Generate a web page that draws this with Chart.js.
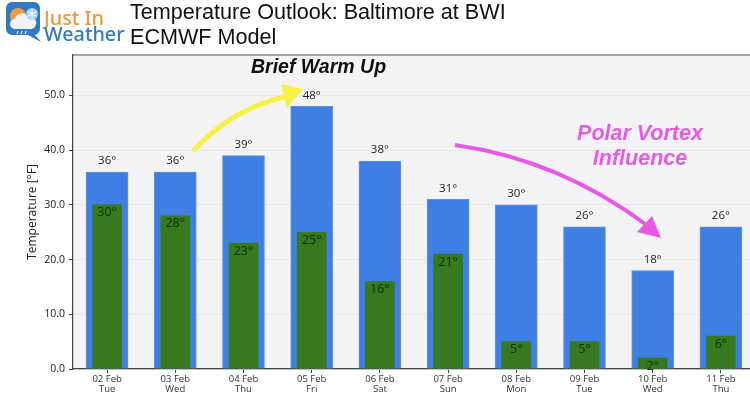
<!DOCTYPE html>
<html>
<head>
<meta charset="utf-8">
<script src="https://cdn.jsdelivr.net/npm/chart.js@4"></script>
<style>
html, body { margin: 0; padding: 0; background: #fff; overflow: hidden; width: 750px; height: 394px; }
#myChart { position: absolute; left: 0; top: 0; }
#logo { position: absolute; left: 6px; top: 1px; }
#brand { position: absolute; left: 44px; top: 10px; font-family: "Noto Sans", sans-serif; font-size: 19.8px; line-height: 16px; font-weight: 500; }
#brand .just { color: #e89a3c; }
#brand .weather { color: #2f7cc0; font-size: 19.8px; }
#title { position: absolute; left: 130px; top: 0; font-family: "Liberation Sans", sans-serif; font-size: 21.6px; line-height: 24.5px; color: #111; white-space: nowrap; }
</style>
</head>
<body>
<canvas id="myChart" width="755" height="394"></canvas>
<svg id="logo" width="36" height="42" viewBox="0 0 36 42">
  <path d="M6 1H28a6 6 0 0 1 6 6V28a6 6 0 0 1-6 6H29L35 41 22 34H6a6 6 0 0 1-6-6V7a6 6 0 0 1 6-6z" fill="#2f7cc0"/>
  <circle cx="12" cy="15" r="8" fill="#ee9c3f"/>
  <path d="M9 28a5 5 0 0 1 0-10a7 7 0 0 1 13-2a6 6 0 0 1 4 12z" fill="#eef4fa"/>
  <circle cx="26" cy="13" r="6" fill="#a8d0ef"/>
  <path d="M26 8V18M21.500 10.500L30.500 15.500M30.500 10.500L21.500 15.500" stroke="#fff" stroke-width="1"/>
  <path d="M12 30l-1 3M16 30l-1 3M20 30l-1 3" stroke="#d8e8f5" stroke-width="1.200"/>
</svg>
<div id="brand"><div class="just">Just In</div><div class="weather">Weather</div></div>
<div id="title">Temperature Outlook: Baltimore at BWI<br>ECMWF Model</div>
<script>
'use strict';

const dates = ['02 Feb', '03 Feb', '04 Feb', '05 Feb', '06 Feb', '07 Feb', '08 Feb', '09 Feb', '10 Feb', '11 Feb'];
const days = ['Tue', 'Wed', 'Thu', 'Fri', 'Sat', 'Sun', 'Mon', 'Tue', 'Wed', 'Thu'];
const highs = [36, 36, 39, 48, 38, 31, 30, 26, 18, 26];
const lows = [30, 28, 23, 25, 16, 21, 5, 5, 2, 6];
const y_ticks = [0, 10, 20, 30, 40, 50];

const FONT = '"Open Sans", sans-serif';
const YELLOW = '#f6f145';
const MAGENTA = '#e65ae6';

// background and frame of the plot
const frame_plugin = {
    id: 'frame',
    beforeDraw: function(chart){
        var ctx = chart.ctx, a = chart.chartArea;
        ctx.save();
        ctx.fillStyle = '#f4f4f6';
        ctx.fillRect(a.left, a.top, a.right - a.left, a.bottom - a.top);
        ctx.restore();
    },
    afterDraw: function(chart){
        var ctx = chart.ctx, a = chart.chartArea;
        ctx.save();
        ctx.strokeStyle = '#555';
        ctx.lineWidth = 1.2;
        ctx.beginPath();
        ctx.moveTo(a.left, a.top);
        ctx.lineTo(a.right, a.top);
        ctx.stroke();
        ctx.restore();
    }
};

// degree labels on the bars
const value_plugin = {
    id: 'values',
    afterDatasetsDraw: function(chart){
        var ctx = chart.ctx;
        ctx.save();
        ctx.textAlign = 'center';
        ctx.textBaseline = 'middle';
        chart.data.datasets.forEach(function(ds, d){
            chart.getDatasetMeta(d).data.forEach(function(bar, i){
                ctx.font = (d == 0 ? '11.500px ' : '12.500px ') + FONT;
                ctx.fillStyle = d == 0 ? '#222' : '#0b3108';
                var offset = d == 0 ? -11 : 8;
                ctx.fillText(ds.data[i] + '°', bar.x, bar.y + offset);
            });
        });
        ctx.restore();
    }
};

function drawHead(ctx, color, tip, c1, c2){
    ctx.fillStyle = color;
    ctx.beginPath();
    ctx.moveTo(tip[0], tip[1]);
    ctx.lineTo(c1[0], c1[1]);
    ctx.lineTo(c2[0], c2[1]);
    ctx.closePath();
    ctx.fill();
}

// hand drawn notes on top of the chart
const note_plugin = {
    id: 'notes',
    afterDraw: function(chart){
        var ctx = chart.ctx;
        ctx.save();
        ctx.lineCap = 'butt';

        ctx.strokeStyle = YELLOW;
        ctx.lineWidth = 5;
        ctx.beginPath();
        ctx.moveTo(193, 151);
        ctx.quadraticCurveTo(232, 108, 288, 96);
        ctx.stroke();
        drawHead(ctx, YELLOW, [303, 89], [281, 84], [287, 108]);

        ctx.strokeStyle = MAGENTA;
        ctx.lineWidth = 4;
        ctx.beginPath();
        ctx.moveTo(455, 145);
        ctx.quadraticCurveTo(560, 160, 648, 226);
        ctx.stroke();
        drawHead(ctx, MAGENTA, [661, 238], [652, 216], [637, 232]);

        ctx.textAlign = 'center';
        ctx.textBaseline = 'middle';
        ctx.fillStyle = '#111';
        ctx.font = 'italic bold 19.500px "Liberation Sans", sans-serif';
        ctx.fillText('Brief Warm Up', 318.5, 68);
        ctx.fillStyle = MAGENTA;
        ctx.font = 'italic bold 21.500px "Liberation Sans", sans-serif';
        ctx.fillText('Polar Vortex', 640, 134);
        ctx.fillText('Influence', 640, 159);
        ctx.restore();
    }
};

const ctx = document.getElementById('myChart');
var myChart = new Chart(ctx, {
    type: 'bar',
    data: {
        labels: dates.map((d, i) => [d, days[i]]),
        datasets: [
            { data: highs, backgroundColor: '#3f7fe3', borderColor: '#5b93ea', borderWidth: 1, barThickness: 42, grouped: false, order: 2 },
            { data: lows, backgroundColor: '#37791f', barThickness: 29, grouped: false, order: 1 }
        ]
    },
    options: {
        responsive: false,
        animation: false,
        layout: { padding: { top: 55, right: 0, bottom: 0, left: 0 } },
        plugins: {
            legend: { display: false },
            tooltip: { enabled: false }
        },
        scales: {
            x: {
                afterFit: function(s){ s.height = 25; },
                border: { color: '#444', width: 1.2 },
                grid: { offset: false, drawOnChartArea: false, drawTicks: true, tickLength: 4, tickColor: '#444' },
                ticks: {
                    color: '#333',
                    maxRotation: 0,
                    autoSkip: false,
                    padding: 1,
                    font: { family: FONT, size: 9.5, lineHeight: 1.1 }
                }
            },
            y: {
                min: 0,
                max: 57.4,
                afterFit: function(s){ s.width = 73; },
                afterBuildTicks: function(s){ s.ticks = y_ticks.map(v => ({ value: v })); },
                border: { color: '#444', width: 1.2 },
                grid: { color: '#e8e8e8', tickColor: '#444', tickLength: 4 },
                title: {
                    display: true,
                    text: 'Temperature [°F]',
                    color: '#222',
                    font: { family: FONT, size: 12 },
                    padding: { top: 25, bottom: 0 }
                },
                ticks: {
                    color: '#222',
                    padding: 4,
                    font: { family: FONT, size: 10.5 },
                    callback: function(v){ return Number(v).toFixed(1); }
                }
            }
        }
    },
    plugins: [frame_plugin, value_plugin, note_plugin]
});
</script>
</body>
</html>
